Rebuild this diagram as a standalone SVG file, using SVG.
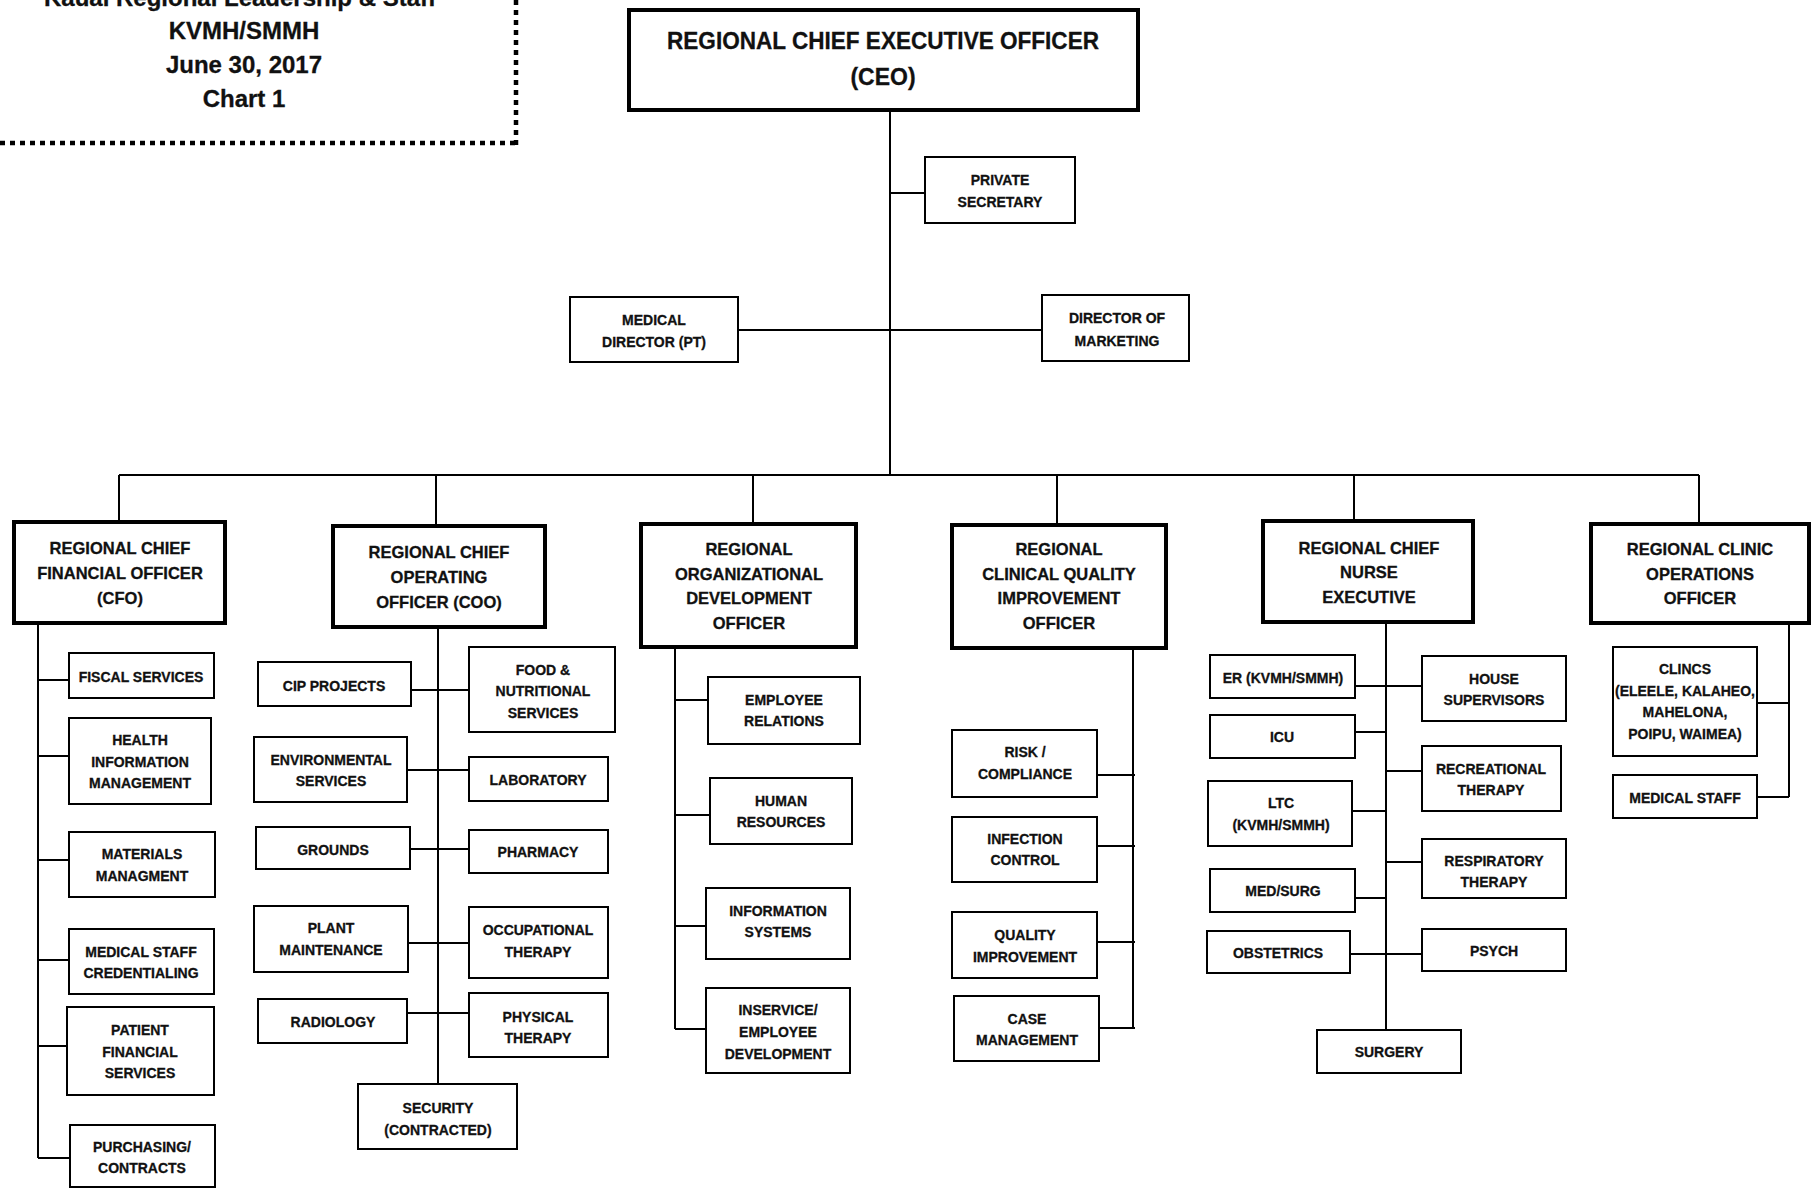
<svg xmlns="http://www.w3.org/2000/svg" width="1812" height="1188" viewBox="0 0 1812 1188">
<style>
.bg{fill:#fff}
.b{fill:#fff;stroke:#000;stroke-width:2}
.m{fill:#fff;stroke:#000;stroke-width:4}
.t{font-family:"Liberation Sans",Arial,sans-serif;font-weight:bold;font-size:14px;text-anchor:middle;fill:#111;stroke:#111;stroke-width:0.3}
.tm{font-size:16.5px}
.tc{font-size:23px}
.tt{font-size:24px}
.c{fill:none;stroke:#000;stroke-width:2}
.dot{fill:none;stroke:#000;stroke-width:4.5;stroke-dasharray:5 5}
</style>
<rect class="bg" x="0" y="0" width="1812" height="1188"/>
<g id="title">
<path class="dot" d="M516,0 V146 M0,143 H516"/>
<text class="t tt" x="240" y="6">Kauai Regional Leadership &amp; Staff</text>
<text class="t tt" x="244" y="39">KVMH/SMMH</text>
<text class="t tt" x="244" y="73">June 30, 2017</text>
<text class="t tt" x="244" y="107">Chart 1</text>
</g>
<g id="connectors">
<path class="c" d="M890,110 V475 M890,193 H925 M738,330 H1042 M119,475 H1699 M119,475 V522 M436,475 V526 M753,475 V524 M1057,475 V525 M1354,475 V521 M1699,475 V524"/>
<path class="c" d="M38,623 V1158 M38,680 H69 M38,756 H69 M38,860 H69 M38,960 H69 M38,1046 H67 M38,1158 H70"/>
<path class="c" d="M438,627 V1084 M411,690 H469 M407,770 H469 M410,849 H469 M408,943 H469 M407,1013 H469"/>
<path class="c" d="M675,647 V1029 M675,700 H708 M675,815 H710 M675,926 H706 M675,1029 H706"/>
<path class="c" d="M1133,648 V1029 M1097,775 H1135 M1097,846 H1135 M1097,942 H1135 M1099,1028 H1135"/>
<path class="c" d="M1386,622 V1030 M1355,686 H1422 M1355,732 H1386 M1352,811 H1386 M1386,771 H1422 M1386,862 H1422 M1355,898 H1386 M1350,954 H1422"/>
<path class="c" d="M1789,623 V797 M1757,703 H1789 M1757,797 H1789"/>
</g>
<g id="ceo"><rect class="m" x="629" y="10" width="509" height="100"/><text class="t tc" x="883" y="49" textLength="432" lengthAdjust="spacingAndGlyphs">REGIONAL CHIEF EXECUTIVE OFFICER</text><text class="t tc" x="883" y="85">(CEO)</text></g>
<g id="private-secretary"><rect class="b" x="925" y="157" width="150" height="66"/><text class="t" x="1000" y="185">PRIVATE</text><text class="t" x="1000" y="207">SECRETARY</text></g>
<g id="medical-director"><rect class="b" x="570" y="297" width="168" height="65"/><text class="t" x="654" y="325">MEDICAL</text><text class="t" x="654" y="347">DIRECTOR (PT)</text></g>
<g id="director-marketing"><rect class="b" x="1042" y="295" width="147" height="66"/><text class="t" x="1117" y="323">DIRECTOR OF</text><text class="t" x="1117" y="346">MARKETING</text></g>

<g id="cfo"><rect class="m" x="14" y="522" width="211" height="101"/><text class="t tm" x="120" y="554">REGIONAL CHIEF</text><text class="t tm" x="120" y="579">FINANCIAL OFFICER</text><text class="t tm" x="120" y="604">(CFO)</text></g>
<g id="fiscal"><rect class="b" x="69" y="653" width="145" height="45"/><text class="t" x="141" y="682">FISCAL SERVICES</text></g>
<g id="him"><rect class="b" x="69" y="718" width="142" height="86"/><text class="t" x="140" y="745">HEALTH</text><text class="t" x="140" y="767">INFORMATION</text><text class="t" x="140" y="788">MANAGEMENT</text></g>
<g id="materials"><rect class="b" x="69" y="832" width="146" height="65"/><text class="t" x="142" y="859">MATERIALS</text><text class="t" x="142" y="881">MANAGMENT</text></g>
<g id="credentialing"><rect class="b" x="69" y="929" width="145" height="65"/><text class="t" x="141" y="957">MEDICAL STAFF</text><text class="t" x="141" y="978">CREDENTIALING</text></g>
<g id="pfs"><rect class="b" x="67" y="1007" width="147" height="88"/><text class="t" x="140" y="1035">PATIENT</text><text class="t" x="140" y="1057">FINANCIAL</text><text class="t" x="140" y="1078">SERVICES</text></g>
<g id="purchasing"><rect class="b" x="70" y="1125" width="145" height="62"/><text class="t" x="142" y="1152">PURCHASING/</text><text class="t" x="142" y="1173">CONTRACTS</text></g>

<g id="coo"><rect class="m" x="333" y="526" width="212" height="101"/><text class="t tm" x="439" y="558">REGIONAL CHIEF</text><text class="t tm" x="439" y="583">OPERATING</text><text class="t tm" x="439" y="608">OFFICER (COO)</text></g>
<g id="cip"><rect class="b" x="258" y="662" width="153" height="44"/><text class="t" x="334" y="691">CIP PROJECTS</text></g>
<g id="environmental"><rect class="b" x="254" y="737" width="153" height="65"/><text class="t" x="331" y="765">ENVIRONMENTAL</text><text class="t" x="331" y="786">SERVICES</text></g>
<g id="grounds"><rect class="b" x="256" y="827" width="154" height="42"/><text class="t" x="333" y="855">GROUNDS</text></g>
<g id="plant"><rect class="b" x="254" y="906" width="154" height="66"/><text class="t" x="331" y="933">PLANT</text><text class="t" x="331" y="955">MAINTENANCE</text></g>
<g id="radiology"><rect class="b" x="258" y="999" width="149" height="44"/><text class="t" x="333" y="1027">RADIOLOGY</text></g>
<g id="security"><rect class="b" x="358" y="1084" width="159" height="65"/><text class="t" x="438" y="1113">SECURITY</text><text class="t" x="438" y="1135">(CONTRACTED)</text></g>
<g id="food"><rect class="b" x="469" y="647" width="146" height="85"/><text class="t" x="543" y="675">FOOD &amp;</text><text class="t" x="543" y="696">NUTRITIONAL</text><text class="t" x="543" y="718">SERVICES</text></g>
<g id="laboratory"><rect class="b" x="469" y="757" width="139" height="44"/><text class="t" x="538" y="785">LABORATORY</text></g>
<g id="pharmacy"><rect class="b" x="469" y="830" width="139" height="43"/><text class="t" x="538" y="857">PHARMACY</text></g>
<g id="ot"><rect class="b" x="469" y="907" width="139" height="71"/><text class="t" x="538" y="935">OCCUPATIONAL</text><text class="t" x="538" y="957">THERAPY</text></g>
<g id="pt"><rect class="b" x="469" y="993" width="139" height="64"/><text class="t" x="538" y="1022">PHYSICAL</text><text class="t" x="538" y="1043">THERAPY</text></g>

<g id="org-dev"><rect class="m" x="641" y="524" width="215" height="123"/><text class="t tm" x="749" y="555">REGIONAL</text><text class="t tm" x="749" y="580">ORGANIZATIONAL</text><text class="t tm" x="749" y="604">DEVELOPMENT</text><text class="t tm" x="749" y="629">OFFICER</text></g>
<g id="employee-relations"><rect class="b" x="708" y="677" width="152" height="67"/><text class="t" x="784" y="705">EMPLOYEE</text><text class="t" x="784" y="726">RELATIONS</text></g>
<g id="hr"><rect class="b" x="710" y="778" width="142" height="66"/><text class="t" x="781" y="806">HUMAN</text><text class="t" x="781" y="827">RESOURCES</text></g>
<g id="is"><rect class="b" x="706" y="888" width="144" height="71"/><text class="t" x="778" y="916">INFORMATION</text><text class="t" x="778" y="937">SYSTEMS</text></g>
<g id="inservice"><rect class="b" x="706" y="988" width="144" height="85"/><text class="t" x="778" y="1015">INSERVICE/</text><text class="t" x="778" y="1037">EMPLOYEE</text><text class="t" x="778" y="1059">DEVELOPMENT</text></g>

<g id="cqi"><rect class="m" x="952" y="525" width="214" height="123"/><text class="t tm" x="1059" y="555">REGIONAL</text><text class="t tm" x="1059" y="580">CLINICAL QUALITY</text><text class="t tm" x="1059" y="604">IMPROVEMENT</text><text class="t tm" x="1059" y="629">OFFICER</text></g>
<g id="risk"><rect class="b" x="952" y="730" width="145" height="67"/><text class="t" x="1025" y="757">RISK /</text><text class="t" x="1025" y="779">COMPLIANCE</text></g>
<g id="infection"><rect class="b" x="952" y="817" width="145" height="65"/><text class="t" x="1025" y="844">INFECTION</text><text class="t" x="1025" y="865">CONTROL</text></g>
<g id="quality"><rect class="b" x="952" y="912" width="145" height="66"/><text class="t" x="1025" y="940">QUALITY</text><text class="t" x="1025" y="962">IMPROVEMENT</text></g>
<g id="case"><rect class="b" x="954" y="996" width="145" height="65"/><text class="t" x="1027" y="1024">CASE</text><text class="t" x="1027" y="1045">MANAGEMENT</text></g>

<g id="cne"><rect class="m" x="1263" y="521" width="210" height="101"/><text class="t tm" x="1369" y="554">REGIONAL CHIEF</text><text class="t tm" x="1369" y="578">NURSE</text><text class="t tm" x="1369" y="603">EXECUTIVE</text></g>
<g id="er"><rect class="b" x="1210" y="655" width="145" height="43"/><text class="t" x="1283" y="683">ER (KVMH/SMMH)</text></g>
<g id="icu"><rect class="b" x="1210" y="715" width="145" height="43"/><text class="t" x="1282" y="742">ICU</text></g>
<g id="ltc"><rect class="b" x="1208" y="781" width="144" height="65"/><text class="t" x="1281" y="808">LTC</text><text class="t" x="1281" y="830">(KVMH/SMMH)</text></g>
<g id="medsurg"><rect class="b" x="1210" y="869" width="145" height="43"/><text class="t" x="1283" y="896">MED/SURG</text></g>
<g id="obstetrics"><rect class="b" x="1207" y="931" width="143" height="42"/><text class="t" x="1278" y="958">OBSTETRICS</text></g>
<g id="house"><rect class="b" x="1422" y="656" width="144" height="65"/><text class="t" x="1494" y="684">HOUSE</text><text class="t" x="1494" y="705">SUPERVISORS</text></g>
<g id="recreational"><rect class="b" x="1422" y="746" width="139" height="65"/><text class="t" x="1491" y="774">RECREATIONAL</text><text class="t" x="1491" y="795">THERAPY</text></g>
<g id="respiratory"><rect class="b" x="1422" y="839" width="144" height="59"/><text class="t" x="1494" y="866">RESPIRATORY</text><text class="t" x="1494" y="887">THERAPY</text></g>
<g id="psych"><rect class="b" x="1422" y="929" width="144" height="42"/><text class="t" x="1494" y="956">PSYCH</text></g>
<g id="surgery"><rect class="b" x="1317" y="1030" width="144" height="43"/><text class="t" x="1389" y="1057">SURGERY</text></g>

<g id="clinic-ops"><rect class="m" x="1591" y="524" width="218" height="99"/><text class="t tm" x="1700" y="555">REGIONAL CLINIC</text><text class="t tm" x="1700" y="580">OPERATIONS</text><text class="t tm" x="1700" y="604">OFFICER</text></g>
<g id="clinics"><rect class="b" x="1613" y="647" width="144" height="109"/><text class="t" x="1685" y="674">CLINCS</text><text class="t" x="1685" y="696">(ELEELE, KALAHEO,</text><text class="t" x="1685" y="717">MAHELONA,</text><text class="t" x="1685" y="739">POIPU, WAIMEA)</text></g>
<g id="medical-staff"><rect class="b" x="1613" y="775" width="144" height="43"/><text class="t" x="1685" y="803">MEDICAL STAFF</text></g>
</svg>
